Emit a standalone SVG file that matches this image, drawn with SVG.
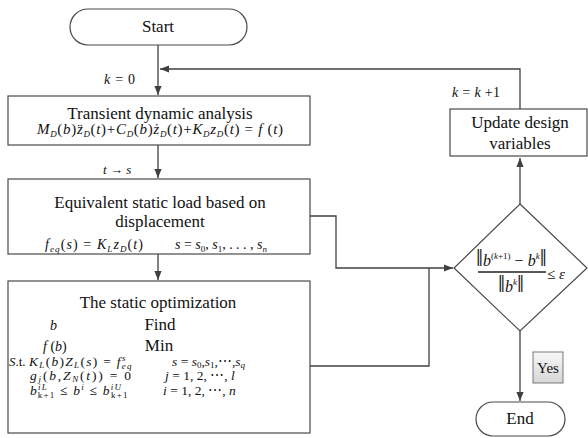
<svg xmlns="http://www.w3.org/2000/svg" width="588" height="438" viewBox="0 0 588 438">
  <defs>
    <marker id="arr" viewBox="0 0 10 10" refX="10" refY="5" markerWidth="9" markerHeight="9" markerUnits="userSpaceOnUse" orient="auto">
      <path d="M0,1 L10,5 L0,9 Z" fill="#404040"/>
    </marker>
    <linearGradient id="yesFill" x1="0" y1="0" x2="0" y2="1">
      <stop offset="0" stop-color="#f8f8f8"/>
      <stop offset="1" stop-color="#d6d6d6"/>
    </linearGradient>
  </defs>
  <style>
    .box { fill: #fff; stroke: #4a4a4a; stroke-width: 1.2; }
    .ln { fill: none; stroke: #404040; stroke-width: 1.3; }
    text { font-family: 'Liberation Serif', 'DejaVu Serif', serif; fill: #111; }
    .t { font-size: 17px; text-anchor: middle; }
    .m { font-size: 14px; font-style: italic; }
    .c { font-size: 13.5px; font-style: italic; }
    .up { font-style: normal; }
    .s { font-size: 9px; }
    .bar { font-size: 25px; font-style: normal; }
  </style>
  <rect width="588" height="438" fill="#fff"/>

  <!-- connectors -->
  <g id="connectors">
    <line class="ln" x1="158" y1="45" x2="158" y2="95" marker-end="url(#arr)"/>
    <polyline class="ln" points="520,109 520,69 160,69" marker-end="url(#arr)"/>
    <line class="ln" x1="158" y1="145" x2="158" y2="178" marker-end="url(#arr)"/>
    <line class="ln" x1="158" y1="254" x2="158" y2="280" marker-end="url(#arr)"/>
    <polyline class="ln" points="310,216 336,216 336,268 453,268" marker-end="url(#arr)"/>
    <polyline class="ln" points="310,366 429,366 429,268"/>
    <line class="ln" x1="520" y1="204" x2="520" y2="158" marker-end="url(#arr)"/>
    <line class="ln" x1="520" y1="331" x2="520" y2="401" marker-end="url(#arr)"/>
    <text class="m" x="104" y="84" textLength="31">k<tspan class="up"> = 0</tspan></text>
    <text class="m" x="103" y="174" style="font-size:13px">t <tspan class="up">→</tspan> s</text>
    <text class="m" x="452" y="97" textLength="48">k<tspan class="up"> = </tspan>k<tspan class="up"> +1</tspan></text>
  </g>

  <g id="start">
    <rect class="box" x="70" y="9" width="177" height="36" rx="18"/>
    <text class="t" x="158" y="32">Start</text>
  </g>

  <g id="transient">
    <rect class="box" x="8" y="96" width="302" height="49"/>
    <text class="t" x="160" y="119">Transient dynamic analysis</text>
    <text class="m" x="37" y="134" style="font-size:15px" textLength="246">M<tspan class="s" dy="3">D</tspan><tspan class="up" dy="-3">(</tspan>b<tspan class="up">)</tspan>z&#x308;<tspan class="s" dy="3">D</tspan><tspan class="up" dy="-3">(</tspan>t<tspan class="up">)+</tspan>C<tspan class="s" dy="3">D</tspan><tspan class="up" dy="-3">(</tspan>b<tspan class="up">)</tspan>z&#x307;<tspan class="s" dy="3">D</tspan><tspan class="up" dy="-3">(</tspan>t<tspan class="up">)+</tspan>K<tspan class="s" dy="3">D</tspan><tspan dy="-3">z</tspan><tspan class="s" dy="3">D</tspan><tspan class="up" dy="-3">(</tspan>t<tspan class="up">) = </tspan>f<tspan class="up"> (</tspan>t<tspan class="up">)</tspan></text>
  </g>

  <g id="equivalent">
    <rect class="box" x="8" y="179" width="302" height="75"/>
    <text class="t" x="160" y="208">Equivalent static load based on</text>
    <text class="t" x="160" y="227">displacement</text>
    <text class="m" x="45" y="249" textLength="98">f<tspan class="s" dy="3">eq</tspan><tspan class="up" dy="-3">(</tspan>s<tspan class="up">) = </tspan>K<tspan class="s" dy="3">L</tspan><tspan dy="-3">z</tspan><tspan class="s" dy="3">D</tspan><tspan class="up" dy="-3">(</tspan>t<tspan class="up">)</tspan></text>
    <text class="m" x="175" y="249" textLength="92">s<tspan class="up"> = </tspan>s<tspan class="s up" dy="3">0</tspan><tspan class="up" dy="-3">, </tspan>s<tspan class="s up" dy="3">1</tspan><tspan class="up" dy="-3">, . . . , </tspan>s<tspan class="s" dy="3">n</tspan></text>
  </g>

  <g id="optimization">
    <rect class="box" x="8" y="281" width="302" height="152"/>
    <text class="t" x="158" y="308">The static optimization</text>
    <text class="m" x="50" y="330">b</text>
    <text class="t" x="160" y="330">Find</text>
    <text class="m" x="43" y="351">f<tspan class="up"> (</tspan>b<tspan class="up">)</tspan></text>
    <text class="t" x="159" y="351">Min</text>
    <text class="c" x="9" y="366" style="font-size:13px">S<tspan class="up">.t.</tspan></text>
    <text class="c" x="29" y="366" letter-spacing="1.3">K<tspan class="s" dy="2">L</tspan><tspan class="up" dy="-2">(</tspan>b<tspan class="up">)</tspan>Z<tspan class="s" dy="2">L</tspan><tspan class="up" dy="-2">(</tspan>s<tspan class="up">) = </tspan>f<tspan class="s" dy="-5">s</tspan><tspan class="s" dx="-5" dy="8">eq</tspan></text>
    <text class="c" x="172" y="366">s<tspan class="up"> = </tspan>s<tspan class="s up" dy="2">0</tspan><tspan class="up" dy="-2">,</tspan>s<tspan class="s up" dy="2">1</tspan><tspan class="up" dy="-2">,⋯,</tspan>s<tspan class="s" dy="2">q</tspan></text>
    <text class="c" x="30" y="380" letter-spacing="1.8">g<tspan class="s" dy="2">j</tspan><tspan class="up" dy="-2">(</tspan>b<tspan class="up">,</tspan>Z<tspan class="s" dy="2">N</tspan><tspan class="up" dy="-2">(</tspan>t<tspan class="up">)) = 0</tspan></text>
    <text class="c" x="165" y="380">j<tspan class="up"> = 1, 2, ⋯, </tspan>l</text>
    <text class="c" x="30" y="395" letter-spacing="1.2">b<tspan class="s" dy="-5">iL</tspan><tspan class="s up" dx="-10" dy="8">k+1</tspan><tspan class="up" dy="-3"> ≤ </tspan>b<tspan class="s" dy="-5">i</tspan><tspan class="up" dy="5"> ≤ </tspan>b<tspan class="s" dy="-5">iU</tspan><tspan class="s up" dx="-11" dy="8">k+1</tspan></text>
    <text class="c" x="163" y="395">i<tspan class="up"> = 1, 2, ⋯, </tspan>n</text>
  </g>

  <g id="update">
    <rect class="box" x="450" y="109" width="137" height="47"/>
    <text class="t" x="520" y="128">Update design</text>
    <text class="t" x="520" y="149">variables</text>
  </g>

  <g id="check">
    <polygon class="box" points="520,204 587,268 520,331 454,268"/>
    <text class="m" x="476" y="266" style="font-size:16px"><tspan class="bar">‖</tspan>b<tspan class="s up" dy="-7">(</tspan><tspan class="s">k</tspan><tspan class="s up">+1)</tspan><tspan class="up" dy="7"> − </tspan>b<tspan class="s" dy="-7">k</tspan><tspan class="bar" dy="7">‖</tspan></text>
    <line x1="478" y1="272" x2="546" y2="272" stroke="#222" stroke-width="1.5"/>
    <text class="m" x="498" y="292" style="font-size:16px"><tspan class="bar">‖</tspan>b<tspan class="s" dy="-7">k</tspan><tspan class="bar" dy="7">‖</tspan></text>
    <text class="m" x="547" y="279" style="font-size:15px"><tspan class="up">≤ </tspan>ε</text>
  </g>

  <g id="yes">
    <rect x="533" y="352" width="30" height="31" fill="url(#yesFill)" stroke="#7a7a7a" stroke-width="1"/>
    <text class="t" x="548" y="373" style="font-size:15px">Yes</text>
  </g>

  <g id="end">
    <rect class="box" x="476" y="402" width="89" height="34" rx="17"/>
    <text class="t" x="520" y="424">End</text>
  </g>
</svg>
